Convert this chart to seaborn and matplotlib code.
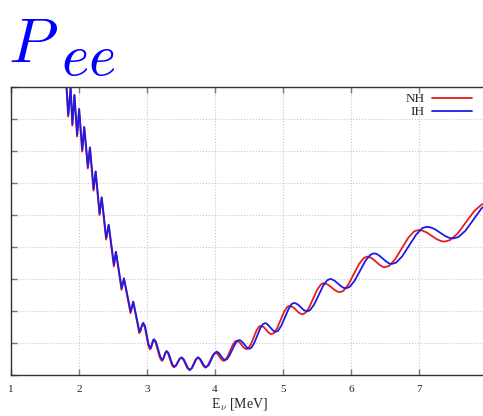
import matplotlib
matplotlib.use("Agg")
import matplotlib.pyplot as plt
import pandas as pd
import seaborn as sns

# Survival probability (extrema plus shoulder points)
nh_energy = [1.791, 1.840, 1.875, 1.901, 1.931, 1.971, 2.000, 2.046, 2.075, 2.129,
             2.159, 2.213, 2.243, 2.301, 2.332, 2.398, 2.435, 2.512, 2.541, 2.625,
             2.659, 2.757, 2.796,
             2.886, 2.900, 2.914, 2.928,
             2.942, 2.968, 2.993, 3.019,
             3.044, 3.058, 3.071, 3.085,
             3.098, 3.128, 3.159, 3.189,
             3.219, 3.235, 3.252, 3.268,
             3.284, 3.312, 3.340, 3.367,
             3.395, 3.422, 3.449, 3.476,
             3.503, 3.534, 3.564, 3.595,
             3.625, 3.655, 3.686, 3.716,
             3.746, 3.774, 3.802, 3.830,
             3.858, 3.895, 3.933, 3.970,
             4.007, 4.037, 4.066, 4.096,
             4.125, 4.149, 4.183, 4.222, 4.261, 4.295,
             4.319, 4.337, 4.363, 4.393, 4.422, 4.448,
             4.466, 4.492, 4.528, 4.569, 4.610, 4.646,
             4.672, 4.692, 4.721, 4.753, 4.785, 4.814,
             4.834, 4.867, 4.913, 4.965, 5.017, 5.063,
             5.096, 5.120, 5.154, 5.193, 5.232, 5.266,
             5.290, 5.328, 5.382, 5.443, 5.504, 5.558,
             5.596, 5.626, 5.669, 5.717, 5.765, 5.808,
             5.838, 5.888, 5.959, 6.039, 6.119, 6.190,
             6.240, 6.273, 6.318, 6.370, 6.422, 6.468,
             6.500, 6.561, 6.647, 6.745, 6.843, 6.929,
             6.990, 7.039, 7.108, 7.186, 7.264, 7.333,
             7.382, 7.459, 7.567, 7.691, 7.815, 7.923,
             8.000]
nh_pee = [1.084, 0.9075, 0.998, 0.879, 0.975, 0.845, 0.931, 0.798, 0.875, 0.745,
          0.811, 0.676, 0.736, 0.600, 0.655, 0.523, 0.569, 0.439, 0.485, 0.366,
          0.402, 0.293, 0.329,
          0.231, 0.235, 0.246, 0.257,
          0.261, 0.249, 0.2205, 0.192,
          0.180, 0.184, 0.195, 0.206,
          0.210, 0.200, 0.177, 0.154,
          0.144, 0.148, 0.1585, 0.169,
          0.173, 0.166, 0.1485, 0.131,
          0.124, 0.128, 0.139, 0.150,
          0.154, 0.148, 0.1345, 0.121,
          0.115, 0.121, 0.135, 0.149,
          0.155, 0.150, 0.139, 0.128,
          0.123, 0.130, 0.1465, 0.163,
          0.170, 0.166, 0.157, 0.148,
          0.144, 0.146, 0.157, 0.1755, 0.194, 0.205,
          0.207, 0.206, 0.202, 0.194, 0.186, 0.182,
          0.181, 0.184, 0.196, 0.2175, 0.239, 0.251,
          0.254, 0.253, 0.249, 0.241, 0.233, 0.229,
          0.228, 0.231, 0.246, 0.272, 0.298, 0.313,
          0.316, 0.315, 0.311, 0.303, 0.295, 0.291,
          0.290, 0.294, 0.310, 0.3385, 0.367, 0.383,
          0.387, 0.386, 0.381, 0.373, 0.365, 0.360,
          0.359, 0.363, 0.382, 0.4145, 0.447, 0.466,
          0.470, 0.469, 0.463, 0.4535, 0.444, 0.438,
          0.437, 0.441, 0.461, 0.495, 0.529, 0.549,
          0.553, 0.552, 0.546, 0.535, 0.524, 0.518,
          0.517, 0.522, 0.542, 0.5775, 0.613, 0.633,
          0.638]

ih_energy = [1.794, 1.843, 1.878, 1.904, 1.934, 1.974, 2.003, 2.049, 2.078, 2.132,
             2.162, 2.216, 2.246, 2.304, 2.335, 2.401, 2.438, 2.515, 2.544, 2.628,
             2.662, 2.760, 2.799,
             2.890, 2.904, 2.918, 2.932,
             2.946, 2.972, 2.998, 3.023,
             3.049, 3.063, 3.076, 3.090,
             3.103, 3.134, 3.164, 3.195,
             3.225, 3.241, 3.258, 3.274,
             3.290, 3.318, 3.346, 3.373,
             3.401, 3.428, 3.456, 3.483,
             3.510, 3.541, 3.571, 3.602,
             3.632, 3.663, 3.693, 3.724,
             3.754, 3.783, 3.811, 3.840,
             3.868, 3.907, 3.947, 3.986,
             4.025, 4.056, 4.086, 4.117,
             4.147, 4.173, 4.210, 4.252, 4.294, 4.331,
             4.357, 4.375, 4.401, 4.431, 4.460, 4.486,
             4.504, 4.533, 4.573, 4.620, 4.666, 4.706,
             4.735, 4.755, 4.782, 4.814, 4.846, 4.873,
             4.893, 4.927, 4.974, 5.028, 5.081, 5.128,
             5.162, 5.186, 5.221, 5.260, 5.299, 5.333,
             5.357, 5.399, 5.457, 5.524, 5.591, 5.649,
             5.691, 5.720, 5.762, 5.809, 5.856, 5.897,
             5.926, 5.978, 6.050, 6.132, 6.214, 6.287,
             6.338, 6.371, 6.416, 6.469, 6.521, 6.566,
             6.599, 6.663, 6.753, 6.856, 6.959, 7.049,
             7.113, 7.162, 7.230, 7.309, 7.387, 7.455,
             7.504, 7.579, 7.683, 7.802, 7.921, 8.026,
             8.100]
ih_pee = [1.084, 0.9125, 0.998, 0.884, 0.975, 0.850, 0.931, 0.803, 0.875, 0.750,
          0.811, 0.681, 0.736, 0.605, 0.655, 0.528, 0.569, 0.444, 0.485, 0.371,
          0.402, 0.298, 0.329,
          0.235, 0.239, 0.249, 0.259,
          0.263, 0.252, 0.224, 0.196,
          0.184, 0.188, 0.198, 0.208,
          0.212, 0.203, 0.180, 0.157,
          0.147, 0.151, 0.161, 0.171,
          0.175, 0.168, 0.1505, 0.133,
          0.126, 0.130, 0.1405, 0.151,
          0.155, 0.149, 0.1355, 0.122,
          0.116, 0.122, 0.1355, 0.149,
          0.155, 0.150, 0.1395, 0.129,
          0.124, 0.131, 0.1485, 0.166,
          0.173, 0.169, 0.160, 0.151,
          0.147, 0.149, 0.160, 0.178, 0.196, 0.207,
          0.209, 0.208, 0.203, 0.196, 0.188, 0.183,
          0.182, 0.185, 0.198, 0.222, 0.246, 0.259,
          0.262, 0.261, 0.256, 0.2485, 0.241, 0.236,
          0.235, 0.238, 0.2535, 0.280, 0.306, 0.322,
          0.325, 0.324, 0.320, 0.312, 0.304, 0.300,
          0.299, 0.303, 0.320, 0.3495, 0.379, 0.396,
          0.400, 0.399, 0.394, 0.3855, 0.377, 0.372,
          0.371, 0.375, 0.3935, 0.4255, 0.4575, 0.476,
          0.480, 0.479, 0.473, 0.4635, 0.454, 0.448,
          0.447, 0.451, 0.471, 0.505, 0.539, 0.559,
          0.563, 0.562, 0.556, 0.545, 0.534, 0.528,
          0.527, 0.531, 0.551, 0.586, 0.621, 0.640,
          0.645]

hierarchies = ["NH", "IH"]
x_ticks = [1, 2, 3, 4, 5, 6, 7]
y_ticks = [0.1, 0.2, 0.3, 0.4, 0.5, 0.6, 0.7, 0.8, 0.9, 1.0]

df = pd.concat([
    pd.DataFrame({"E": nh_energy, "Pee": nh_pee, "hierarchy": "NH"}),
    pd.DataFrame({"E": ih_energy, "Pee": ih_pee, "hierarchy": "IH"}),
], ignore_index=True)

sns.set_style("ticks")
plt.rcParams["font.family"] = ["Liberation Serif", "DejaVu Serif"]
plt.rcParams["mathtext.fontset"] = "cm"

W, H = 483, 416
fig = plt.figure(figsize=(W / 100, H / 100), dpi=100)
ax = fig.add_axes([11 / W, 1 - 375 / H, 476 / W, 288 / H])

sns.lineplot(data=df, x="E", y="Pee", hue="hierarchy", hue_order=hierarchies,
             palette={"NH": "#e41e1e", "IH": "#1c1ce6"}, sort=False,
             estimator=None, linewidth=1.3, ax=ax)
for line in ax.get_lines():
    line.set_solid_joinstyle("round")

ax.set_xlim(1, 8)
ax.set_ylim(0.1, 1.0)
ax.set_xticks(x_ticks)
ax.set_xticklabels([str(t) for t in x_ticks])
ax.set_yticks(y_ticks)
ax.tick_params(axis="both", direction="in", length=4, width=1, color="#777777",
               top=True, right=False, labelleft=False, labelsize=8, pad=7)
ax.grid(True, linestyle=":", color="#c8c8c8", linewidth=0.8)
for side in ["left", "bottom", "top"]:
    ax.spines[side].set_color("#333333")
    ax.spines[side].set_linewidth(1.0)
ax.spines["right"].set_visible(False)

ax.set_xlabel(r"E$_{\nu}$ [MeV]", fontsize=10)
ax.xaxis.set_label_coords(0.481, -0.072)
ax.set_ylabel("")

handles, labels = ax.get_legend_handles_labels()
ax.legend(handles, labels, loc="upper right", frameon=False, markerfirst=False,
          fontsize=9.5, handlelength=3.0, handletextpad=0.6, labelspacing=0.05,
          borderaxespad=0, borderpad=0,
          bbox_to_anchor=(472 / W, 1 - 93 / H), bbox_transform=fig.transFigure)

# Large italic title: P with a lowered "ee"
fig.text(8 / W, 1 - 62 / H, r"$P$", color="blue", fontsize=46,
         ha="left", va="baseline")
fig.text(61 / W, 1 - 75 / H, r"$ee$", color="blue", fontsize=42,
         ha="left", va="baseline")

fig.savefig("out.png", dpi=100)
